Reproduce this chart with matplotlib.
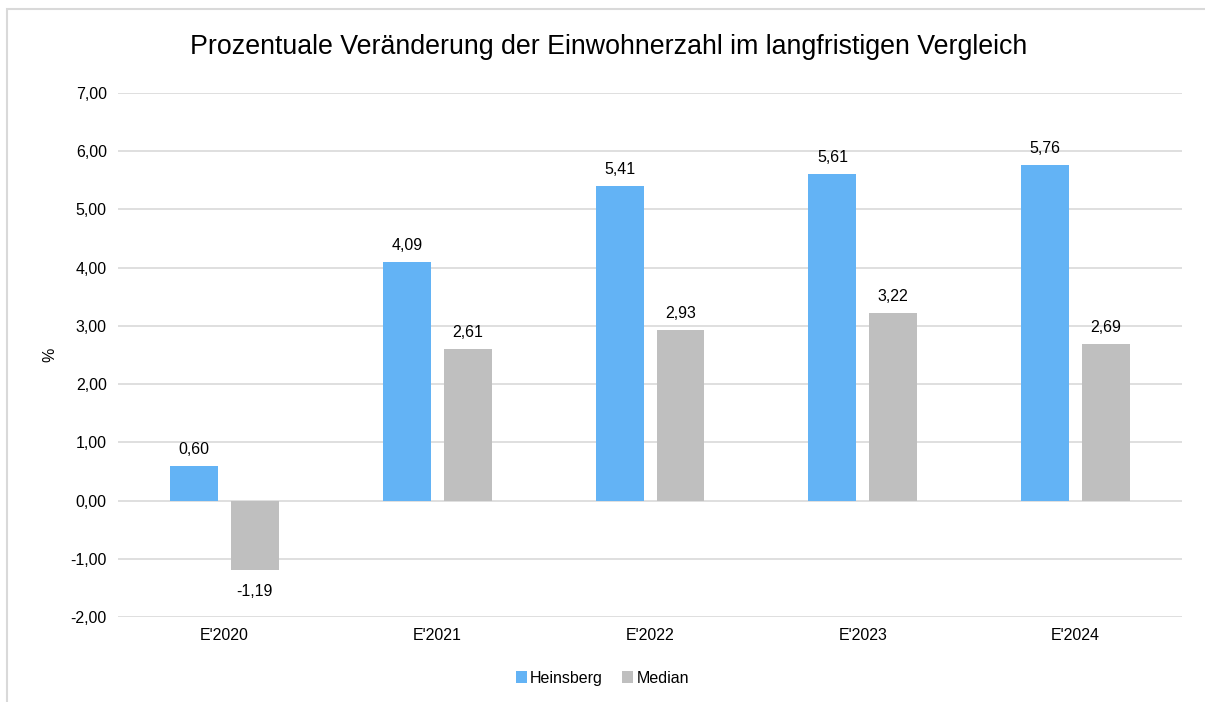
import numpy as np
import matplotlib.pyplot as plt
from matplotlib.patches import Rectangle

plt.rcParams['font.family'] = ['Liberation Sans', 'DejaVu Sans']

# --- Daten ---
kategorien = ["E'2020", "E'2021", "E'2022", "E'2023", "E'2024"]
heinsberg = [0.60, 4.09, 5.41, 5.61, 5.76]
median = [-1.19, 2.61, 2.93, 3.22, 2.69]
y_ticks = [-2, -1, 0, 1, 2, 3, 4, 5, 6, 7]

fs = 11.5

fig = plt.figure(figsize=(12.05, 7.02), dpi=100)
ax = fig.add_axes([0.0979, 0.121, 0.8831, 0.7465])

# Rahmen um das Diagramm
fig.patches.append(Rectangle((7 / 1205, -0.05), 1.2, 1.05 + (702 - 9) / 702 - 1,
                             transform=fig.transFigure, fill=False,
                             edgecolor='#d9d9d9', linewidth=1.5, clip_on=False))

x = np.arange(len(kategorien))
breite = 0.225
versatz = 0.143

b1 = ax.bar(x - versatz, heinsberg, breite, color='#63b3f5', label='Heinsberg', zorder=3)
b2 = ax.bar(x + versatz, median, breite, color='#bfbfbf', label='Median', zorder=3)

def beschriften(bars, werte):
    for b, v in zip(bars, werte):
        cx = b.get_x() + b.get_width() / 2
        txt = f"{v:.2f}".replace('.', ',')
        if v >= 0:
            ax.annotate(txt, (cx, v), xytext=(0, 6.5), textcoords='offset points',
                        ha='center', va='bottom', fontsize=fs)
        else:
            ax.annotate(txt, (cx, v), xytext=(0, -10), textcoords='offset points',
                        ha='center', va='top', fontsize=fs)

beschriften(b1, heinsberg)
beschriften(b2, median)

ax.set_xlim(-0.5, len(kategorien) - 0.5)
ax.set_ylim(-2, 7)
ax.set_yticks(y_ticks)
ax.set_yticklabels([f"{t:.2f}".replace('.', ',') for t in y_ticks], fontsize=fs)
ax.set_xticks(x)
ax.set_xticklabels(kategorien, fontsize=fs)
ax.tick_params(length=0, pad=8)
ax.grid(axis='y', color='#d9d9d9', linewidth=1.2, zorder=0)
for s in ax.spines.values():
    s.set_visible(False)

fig.text(50 / 1205, 1 - 355 / 702, '%', rotation=90, ha='center', va='center', fontsize=fs)

fig.suptitle('Prozentuale Veränderung der Einwohnerzahl im langfristigen Vergleich',
             fontsize=19.3, x=0.5 + 6 / 1205, y=0.951)

fig.legend(loc='center', bbox_to_anchor=(0.5, 0.034), ncol=2, frameon=False,
           fontsize=fs, handlelength=0.7, handleheight=0.7, handletextpad=0.2,
           columnspacing=1.2)

fig.savefig('out.png', dpi=100)
